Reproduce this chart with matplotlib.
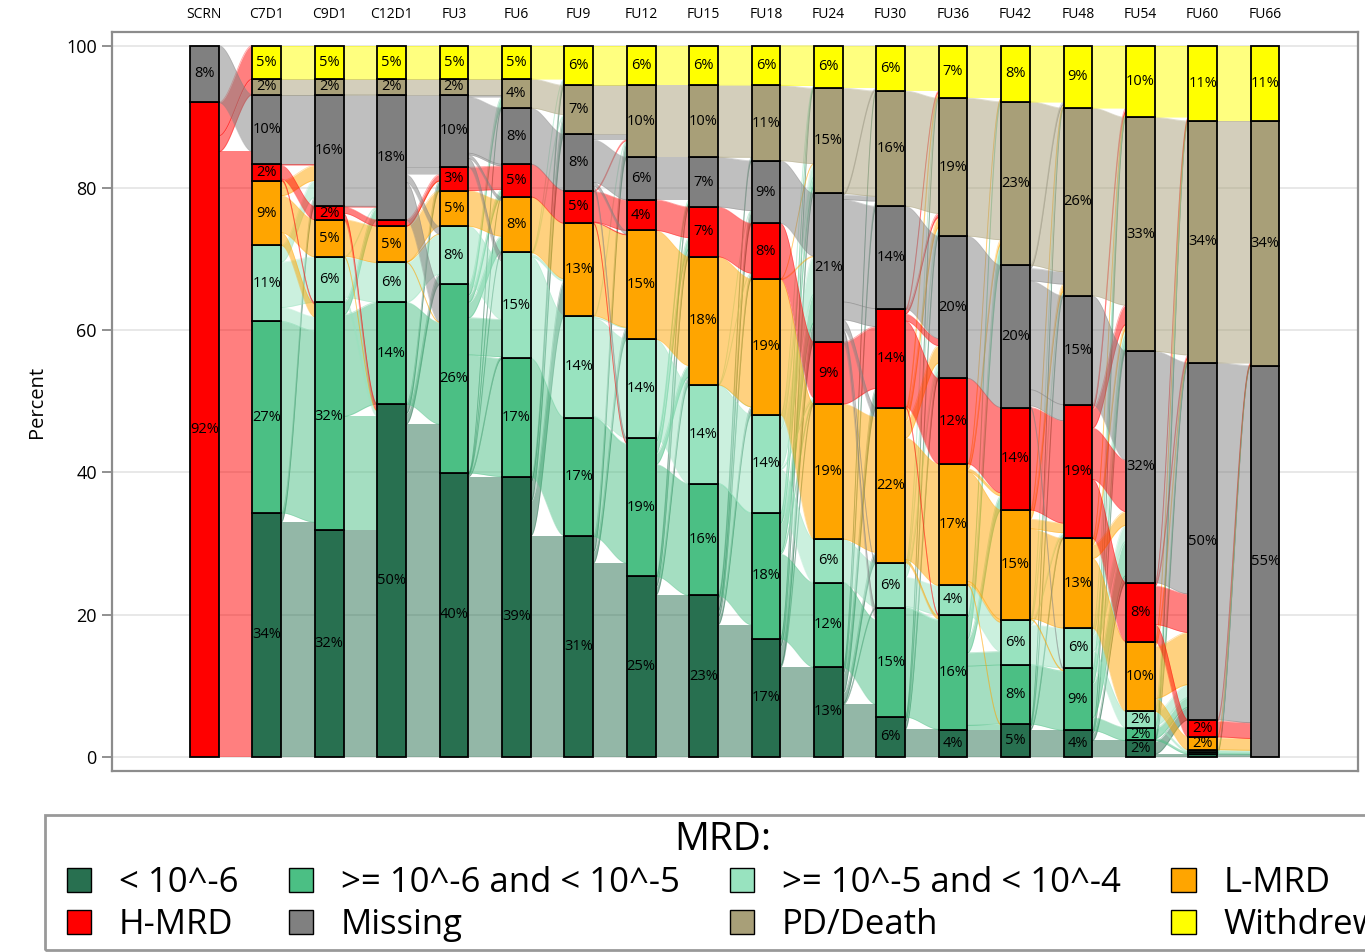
import numpy as np
import matplotlib.pyplot as plt
from matplotlib.patches import Patch, Rectangle

plt.rcParams['font.family'] = ['Open Sans', 'DejaVu Sans']

visits = ['SCRN', 'C7D1', 'C9D1', 'C12D1', 'FU3', 'FU6', 'FU9', 'FU12', 'FU15',
          'FU18', 'FU24', 'FU30', 'FU36', 'FU42', 'FU48', 'FU54', 'FU60', 'FU66']

categories = ['< 10^-6', '>= 10^-6 and < 10^-5', '>= 10^-5 and < 10^-4', 'L-MRD',
              'H-MRD', 'Missing', 'PD/Death', 'Withdrew']
colors = ['#287050', '#4bbf84', '#98e3bf', '#ffa500', '#ff0000', '#808080',
          '#a89f78', '#ffff00']

# percent of patients in each MRD group at each visit
lt_1e6 = [0, 34.3, 31.9, 49.6, 39.9, 39.4, 31.0, 25.4, 22.7, 16.6, 12.6, 5.6, 3.7, 4.6, 3.7, 2.3, 0.4, 0]
lt_1e5 = [0, 26.9, 32.0, 14.3, 26.5, 16.6, 16.7, 19.4, 15.7, 17.7, 11.9, 15.3, 16.3, 8.3, 8.8, 1.8, 0.3, 0]
lt_1e4 = [0, 10.7, 6.4, 5.6, 8.2, 14.9, 14.3, 13.9, 13.9, 13.8, 6.1, 6.4, 4.1, 6.4, 5.6, 2.3, 0.3, 0]
l_mrd = [0, 9.1, 5.2, 5.1, 5.0, 7.8, 13.0, 15.3, 18.0, 19.1, 19.0, 21.8, 17.1, 15.4, 12.6, 9.8, 1.8, 0]
h_mrd = [92.0, 2.4, 1.9, 0.9, 3.3, 4.6, 4.6, 4.3, 7.0, 7.8, 8.7, 13.9, 12.0, 14.4, 18.8, 8.3, 2.4, 0]
missing = [8.0, 9.7, 15.7, 17.6, 10.2, 7.9, 7.9, 6.0, 7.0, 8.8, 20.9, 14.4, 20.0, 20.0, 15.3, 32.5, 50.2, 55.0]
pd_death = [0, 2.2, 2.2, 2.2, 2.2, 4.1, 6.9, 10.1, 10.1, 10.6, 14.8, 16.2, 19.4, 23.0, 26.4, 32.9, 34.0, 34.4]
withdrew = [0, 4.7, 4.7, 4.7, 4.7, 4.7, 5.6, 5.6, 5.6, 5.6, 6.0, 6.4, 7.4, 7.9, 8.8, 10.1, 10.6, 10.6]

pct = np.array([lt_1e6, lt_1e5, lt_1e4, l_mrd, h_mrd, missing, pd_death, withdrew])
n_cat, n_vis = pct.shape
bottoms = np.vstack([np.zeros(n_vis), np.cumsum(pct, axis=0)[:-1]])
width = 0.46


def transitions(src, tgt):
    # patients keep their group where possible, the rest are spread
    # over the groups that still have room
    keep = np.minimum(src, tgt)
    flow = np.diag(keep)
    s_left = src - keep
    t_left = tgt - keep
    if t_left.sum() > 0:
        flow = flow + np.outer(s_left, t_left) / t_left.sum()
    return flow


fig = plt.figure(figsize=(13.65, 9.52), dpi=100)
ax = fig.add_axes([0.0821, 0.1901, 0.9128, 0.7763])

xs = np.arange(n_vis)
u = np.linspace(0, 1, 50)
s = 3 * u ** 2 - 2 * u ** 3

for k in range(n_vis - 1):
    flow = transitions(pct[:, k], pct[:, k + 1])
    x0, x1 = k + width / 2, k + 1 - width / 2
    xx = x0 + (x1 - x0) * u
    out_pos = bottoms[:, k].copy()
    in_pos = bottoms[:, k + 1].copy()
    for i in range(n_cat):
        for j in range(n_cat):
            f = flow[i, j]
            if f < 0.01:
                continue
            y0 = out_pos[i]
            y1 = in_pos[j]
            out_pos[i] += f
            in_pos[j] += f
            low = y0 + (y1 - y0) * s
            ax.fill_between(xx, low, low + f, color=colors[i], alpha=0.5,
                            lw=0, zorder=1)
            if y0 != y1:
                ax.plot(xx, low, color=colors[i], alpha=0.35, lw=0.6, zorder=1)
                ax.plot(xx, low + f, color=colors[i], alpha=0.35, lw=0.6, zorder=1)

for c in range(n_cat):
    vals = pct[c]
    ok = vals > 0
    ax.bar(xs[ok], vals[ok], bottom=bottoms[c][ok], width=width,
           color=colors[c], edgecolor='black', linewidth=1.3, zorder=3)
    for x, v, b in zip(xs, vals, bottoms[c]):
        if v >= 1.5:
            ax.text(x, b + v / 2, f'{v:.0f}%', ha='center', va='center',
                    fontsize=10.5, color='black', zorder=4)

ax.set_xlim(-1.48, 18.49)
ax.set_ylim(-2, 101.9)
ax.set_yticks([0, 20, 40, 60, 80, 100])
ax.set_ylabel('Percent', fontsize=14.5, labelpad=14)
ax.yaxis.grid(True, color='#e4e4e4', lw=1.2, zorder=0)
ax.set_axisbelow(True)

ax.xaxis.tick_top()
ax.set_xticks(xs)
ax.set_xticklabels(visits, fontsize=10)
ax.tick_params(axis='x', length=0, pad=7)
ax.tick_params(axis='y', labelsize=13, length=7, width=1.3, color='#888888', pad=4)
for sp in ax.spines.values():
    sp.set_color('#8c8c8c')
    sp.set_linewidth(1.6)

# legend below the plot, framed by a box that runs off the right edge
W, H = 1365, 952
order = [0, 4, 1, 5, 2, 6, 3, 7]
handles = [Patch(facecolor=colors[i], edgecolor='black', lw=1) for i in order]
labels = [categories[i] for i in order]
fig.legend(handles, labels, ncol=4, loc='upper left',
           bbox_to_anchor=(58 / W, 1 - 812 / H), borderaxespad=0,
           title='MRD:', fontsize=25, title_fontsize=28, frameon=False,
           handlelength=0.7, handleheight=0.7, handletextpad=0.8,
           columnspacing=1.45, labelspacing=0.22, borderpad=0.25)
fig.add_artist(Rectangle((45 / W, 2 / H), 1340 / W, 135 / H,
                         transform=fig.transFigure, fill=False,
                         edgecolor='#999999', lw=2))

fig.savefig('out.png', dpi=100)
